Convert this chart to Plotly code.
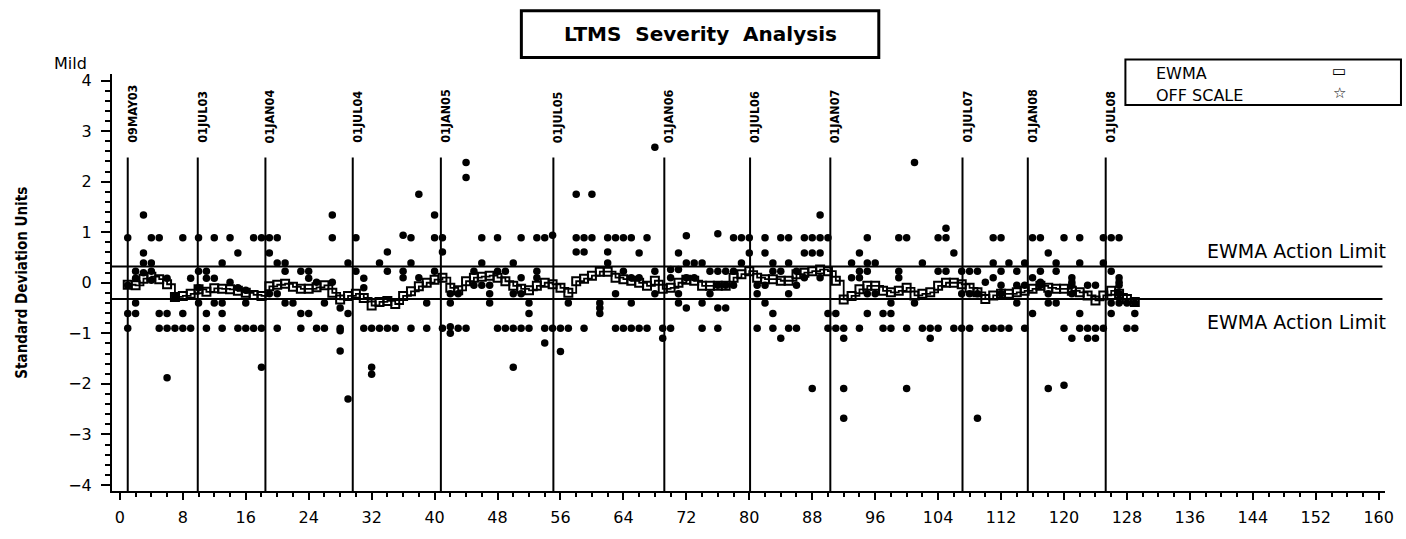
import plotly.graph_objects as go

# ---------------- data ----------------
test_numbers = list(range(1, 130))

# severity values (standard deviation units) for each test
severity_by_test = [
    [0.89, -0.05, -0.61, -0.90],            # 1
    [0.23, 0.09, -0.40, -0.61],             # 2
    [1.34, 0.59, 0.39, 0.20],               # 3
    [0.89, 0.39, 0.23, 0.05],               # 4
    [0.89, -0.61, -0.90],                   # 5
    [0.09, -0.61, -0.90, -1.88],            # 6
    [-0.25, -0.90],                         # 7
    [0.89, -0.61, -0.90],                   # 8
    [0.09, -0.90],                          # 9
    [0.89, 0.23, -0.10, -0.40],             # 10
    [0.23, 0.09, -0.61, -0.90],             # 11
    [0.89, 0.09, -0.40],                    # 12
    [0.39, -0.40, -0.61, -0.90],            # 13
    [0.89, 0.01],                           # 14
    [0.59, -0.10, -0.90],                   # 15
    [-0.15, -0.40, -0.90],                  # 16
    [0.89, -0.90],                          # 17
    [0.89, -0.90, -1.67],                   # 18
    [0.89, 0.59, -0.22],                    # 19
    [0.89, 0.39, -0.22, -0.90],             # 20
    [0.39, 0.23, -0.40],                    # 21
    [-0.40],                                # 22
    [0.23, -0.61, -0.90],                   # 23
    [0.23, 0.09, -0.61],                    # 24
    [0.01, -0.90],                          # 25
    [-0.40, -0.90],                         # 26
    [1.34, 0.89, 0.01],                     # 27
    [-0.50, -0.90, -0.95, -1.35],           # 28
    [0.39, -0.61, -2.30],                   # 29
    [0.89, 0.23],                           # 30
    [0.09, -0.10, -0.90],                   # 31
    [-0.90, -1.67, -1.81],                  # 32
    [0.39, -0.90],                          # 33
    [0.61, 0.23, -0.90],                    # 34
    [-0.90],                                # 35
    [0.94, 0.23, 0.10],                     # 36
    [0.89, 0.39, -0.90],                    # 37
    [1.75, 0.10],                           # 38
    [-0.40, -0.90],                         # 39
    [1.34, 0.89, 0.23],                     # 40
    [0.89, 0.61, -0.90],                    # 41
    [-0.22, -0.40, -0.87, -1.00],           # 42
    [-0.22, -0.90],                         # 43
    [2.38, 2.08, -0.90],                    # 44
    [0.23, -0.05],                          # 45
    [0.89, 0.39, -0.05],                    # 46
    [-0.05, -0.22, -0.40],                  # 47
    [0.89, 0.23, -0.90],                    # 48
    [0.23, -0.90],                          # 49
    [0.39, -0.22, -0.90, -1.67],            # 50
    [0.89, 0.10, -0.22, -0.90],             # 51
    [-0.40, -0.61, -0.90],                  # 52
    [0.89, 0.23, 0.10],                     # 53
    [0.89, -0.90, -1.19],                   # 54
    [0.94, -0.90],                          # 55
    [-0.90, -1.36],                         # 56
    [-0.40, -0.90],                         # 57
    [1.75, 0.89, 0.61],                     # 58
    [0.89, 0.61, -0.90],                    # 59
    [1.75, 0.89],                           # 60
    [-0.40, -0.50, -0.61],                  # 61
    [0.89, 0.61, 0.39],                     # 62
    [0.89, -0.22, -0.90],                   # 63
    [0.89, 0.23, -0.90],                    # 64
    [0.89, 0.10, -0.40, -0.90],             # 65
    [0.59, 0.10, -0.90],                    # 66
    [0.89, -0.90],                          # 67
    [2.68, 0.23, -0.22],                    # 68
    [-0.90, -1.10],                         # 69
    [0.26, 0.10, -0.90],                    # 70
    [0.59, 0.26, -0.22, -0.40],             # 71
    [0.93, 0.39, 0.10, -0.50],              # 72
    [0.39, 0.10],                           # 73
    [0.39, -0.40, -0.90],                   # 74
    [0.23, -0.22],                          # 75
    [0.97, 0.23, -0.05, -0.50, -0.90],      # 76
    [0.23, -0.05, -0.50],                   # 77
    [0.89, 0.23, -0.05],                    # 78
    [0.89, 0.39],                           # 79
    [0.89, 0.59],                           # 80
    [-0.05, -0.22, -0.90],                  # 81
    [0.89, 0.59, -0.05, -0.40],             # 82
    [0.39, 0.23, -0.61, -0.90],             # 83
    [0.89, 0.23, -1.10],                    # 84
    [0.89, 0.39, -0.22, -0.90],             # 85
    [0.23, -0.05, -0.90],                   # 86
    [0.89, 0.59, 0.10],                     # 87
    [0.89, 0.59, -2.09],                    # 88
    [1.34, 0.89, 0.59, 0.10],               # 89
    [0.89, -0.61, -0.90],                   # 90
    [-0.61, -0.90],                         # 91
    [-0.90, -1.10, -2.09, -2.68],           # 92
    [0.39, 0.10],                           # 93
    [0.59, 0.23, 0.10, -0.90],              # 94
    [0.89, 0.39, 0.23, -0.22, -0.61],       # 95
    [0.39, -0.22],                          # 96
    [-0.61, -0.90],                         # 97
    [-0.40, -0.61, -0.90],                  # 98
    [0.89, 0.23, 0.10],                     # 99
    [0.89, -0.90, -2.09],                   # 100
    [2.38, -0.40],                          # 101
    [0.39, -0.90],                          # 102
    [-0.90, -1.10],                         # 103
    [0.89, 0.23, -0.90],                    # 104
    [1.08, 0.89, 0.23],                     # 105
    [0.59, -0.90],                          # 106
    [0.23, -0.22, -0.90],                   # 107
    [0.23, -0.22, -0.90],                   # 108
    [0.23, -0.22, -2.68],                   # 109
    [0.01, -0.90],                          # 110
    [0.89, 0.39, 0.10, -0.90],              # 111
    [0.89, 0.23, -0.05, -0.22, -0.90],      # 112
    [0.39, -0.90],                          # 113
    [0.23, -0.05, -0.40],                   # 114
    [0.39, -0.05, -0.90],                   # 115
    [0.89, 0.10, -0.61],                    # 116
    [0.89, 0.23, 0.01, -0.05],              # 117
    [0.59, -0.22, -0.40, -2.09],            # 118
    [0.39, 0.23, -0.40],                    # 119
    [0.89, -0.90, -2.03],                   # 120
    [0.10, 0.01, -0.05, -0.22, -1.10],      # 121
    [0.89, 0.39, -0.61, -0.90],             # 122
    [-0.05, -0.90, -1.10],                  # 123
    [-0.05, -0.90, -1.10],                  # 124
    [0.89, 0.39, -0.90],                    # 125
    [0.89, 0.23, -0.40, -0.61],             # 126
    [0.89, 0.10, 0.01, -0.05, -0.22, -0.40],# 127
    [-0.40, -0.90],                         # 128
    [-0.40, -0.61, -0.90],                  # 129
]

ewma_values = [
    -0.04, -0.05, 0.08, 0.12, 0.07, -0.03, -0.28, -0.26, -0.22, -0.13,
    -0.18, -0.11, -0.12, -0.13, -0.16, -0.20, -0.24, -0.26, -0.07, -0.04,
    -0.02, -0.08, -0.12, -0.12, -0.09, -0.05, -0.20, -0.33, -0.26, -0.22,
    -0.30, -0.45, -0.38, -0.36, -0.42, -0.26, -0.17, -0.07, 0.00, 0.06,
    0.10, -0.10, -0.15, 0.03, 0.10, 0.12, 0.14, 0.10, 0.03, -0.06,
    -0.12, -0.15, -0.06, 0.00, -0.03, -0.10, -0.20, 0.03, 0.08, 0.14,
    0.22, 0.22, 0.10, 0.07, 0.04, 0.00, -0.06, 0.04, -0.12, -0.10,
    0.00, 0.06, 0.04, -0.06, -0.06, -0.06, -0.06, 0.10, 0.17, 0.23,
    0.10, 0.07, 0.07, 0.04, 0.04, 0.17, 0.20, 0.23, 0.26, 0.23,
    0.04, -0.33, -0.26, -0.13, -0.06, -0.06, -0.16, -0.19, -0.16, -0.10,
    -0.25, -0.22, -0.19, -0.06, 0.00, 0.00, -0.03, -0.10, -0.19, -0.32,
    -0.25, -0.22, -0.22, -0.19, -0.16, -0.12, -0.06, -0.10, -0.12, -0.12,
    -0.16, -0.19, -0.25, -0.35, -0.25, -0.16, -0.22, -0.32, -0.38,
]

date_labels = ["09MAY03", "01JUL03", "01JAN04", "01JUL04", "01JAN05", "01JUL05",
               "01JAN06", "01JUL06", "01JAN07", "01JUL07", "01JAN08", "01JUL08"]
date_positions = [1.0, 9.9, 18.5, 29.6, 40.8, 55.1, 69.2, 80.1, 90.3, 107.1, 115.4, 125.3]

action_limits = [0.32, -0.32]
action_limit_label = "EWMA Action Limit"

x_tick_values = list(range(0, 161, 8))
y_tick_values = [-4, -3, -2, -1, 0, 1, 2, 3, 4]

legend_labels = ["EWMA", "OFF SCALE"]
legend_symbols = ["\u25ad", "\u2606"]

# ---------------- layout geometry ----------------
W, H = 1406, 539
ML, MR, MT, MB = 112, 19, 74, 36
PW, PH = W - ML - MR, H - MT - MB
X_RANGE = [-1.0, 160.8]
Y_RANGE = [-4.12, 4.13]


def paper_x(px):
    return (px - ML) / PW


def paper_y(py):
    return (H - MB - py) / PH


def data_y(py):
    return Y_RANGE[1] - (py - MT) * (Y_RANGE[1] - Y_RANGE[0]) / PH


WIDE = "DejaVu Sans, Verdana, sans-serif"
TICK_FONT = dict(family=WIDE, size=16, color="black")
NARROW = "DejaVu Sans Condensed, Liberation Sans Narrow, Arial Narrow, Roboto Condensed, sans-serif"

pts_x, pts_y = [], []
for t, vals in zip(test_numbers, severity_by_test):
    for v in vals:
        pts_x.append(t)
        pts_y.append(v)

fig = go.Figure()
fig.add_trace(go.Scatter(
    x=pts_x, y=pts_y, mode="markers",
    marker=dict(symbol="circle", size=7.5, color="black", line=dict(width=0)),
    showlegend=False, hoverinfo="skip",
))
fig.add_trace(go.Scatter(
    x=test_numbers, y=ewma_values, mode="lines+markers",
    line=dict(color="black", width=1.8, shape="hv"),
    marker=dict(symbol="square-open", size=8, color="black", line=dict(width=2)),
    showlegend=False, hoverinfo="skip",
))

shapes = []
annotations = []

# vertical date lines + labels
line_top = data_y(160)
label_bottom = data_y(147)
for pos, lab in zip(date_positions, date_labels):
    shapes.append(dict(type="line", xref="x", yref="y", x0=pos, x1=pos,
                       y0=Y_RANGE[0], y1=line_top,
                       line=dict(color="black", width=2)))
    annotations.append(dict(x=pos, y=label_bottom, xref="x", yref="y",
                            text="<b>" + lab + "</b>", showarrow=False, textangle=-90,
                            xanchor="center", yanchor="bottom", xshift=5,
                            font=dict(family=NARROW, size=12.5, color="black")))

# action limit lines + labels
for lim, shift in zip(action_limits, [16, -23]):
    shapes.append(dict(type="line", xref="x domain", yref="y", x0=0, x1=0.998,
                       y0=lim, y1=lim, line=dict(color="black", width=2)))
    annotations.append(dict(x=paper_x(1390), y=lim, xref="paper", yref="y",
                            text=action_limit_label, showarrow=False,
                            xanchor="right", yanchor="middle", yshift=shift,
                            font=dict(family=WIDE, size=19, color="black")))

# title box
shapes.append(dict(type="rect", xref="paper", yref="paper",
                   x0=paper_x(522), x1=paper_x(880), y0=paper_y(57), y1=paper_y(9),
                   line=dict(color="black", width=3), fillcolor="white"))
annotations.append(dict(x=paper_x(701), y=paper_y(33), xref="paper", yref="paper",
                        text="<b>LTMS  Severity  Analysis</b>", showarrow=False,
                        xanchor="center", yanchor="middle",
                        font=dict(family=WIDE, size=20, color="black")))

# legend box
shapes.append(dict(type="rect", xref="paper", yref="paper",
                   x0=paper_x(1127), x1=paper_x(1403), y0=paper_y(106), y1=paper_y(59),
                   line=dict(color="black", width=2), fillcolor="white"))
for lab, sym, py in zip(legend_labels, legend_symbols, [73, 96]):
    annotations.append(dict(x=paper_x(1156), y=paper_y(py), xref="paper", yref="paper",
                            text=lab, showarrow=False, xanchor="left", yanchor="middle",
                            font=dict(family=WIDE, size=16, color="black")))
    annotations.append(dict(x=paper_x(1341), y=paper_y(py - 2), xref="paper", yref="paper",
                            text="<b>" + sym + "</b>", showarrow=False, xanchor="center",
                            yanchor="middle",
                            font=dict(family=WIDE, size=15, color="black")))

# "Mild" label and y-axis title
annotations.append(dict(x=paper_x(52), y=paper_y(63), xref="paper", yref="paper",
                        text="Mild", showarrow=False, xanchor="left", yanchor="middle",
                        font=dict(family=WIDE, size=16, color="black")))
annotations.append(dict(x=paper_x(21), y=0.5, xref="paper", yref="paper",
                        text="<b>Standard Deviation Units</b>", showarrow=False,
                        textangle=-90, xanchor="center", yanchor="middle",
                        font=dict(family=NARROW, size=15, color="black")))

fig.update_layout(
    width=W, height=H, autosize=False,
    margin=dict(l=ML, r=MR, t=MT, b=MB, pad=0),
    paper_bgcolor="white", plot_bgcolor="white",
    showlegend=False,
    shapes=shapes, annotations=annotations,
    xaxis=dict(range=X_RANGE, tickmode="array", tickvals=x_tick_values,
               ticks="outside", ticklen=7, tickwidth=2, tickcolor="black",
               showline=True, linewidth=2, linecolor="black", mirror=False,
               showgrid=False, zeroline=False, tickfont=TICK_FONT,
               ticklabelstandoff=4,
               minor=dict(dtick=2, tick0=0, ticks="outside", ticklen=4,
                          tickwidth=2, tickcolor="black", showgrid=False)),
    yaxis=dict(range=Y_RANGE, tickmode="array", tickvals=y_tick_values,
               ticks="outside", ticklen=9, tickwidth=2, tickcolor="black",
               showline=True, linewidth=2, linecolor="black", mirror=False,
               showgrid=False, zeroline=False, tickfont=TICK_FONT,
               ticklabelstandoff=6,
               minor=dict(dtick=0.2, tick0=0, ticks="outside", ticklen=5,
                          tickwidth=1.5, tickcolor="black", showgrid=False)),
)

fig.write_html("out.html")
